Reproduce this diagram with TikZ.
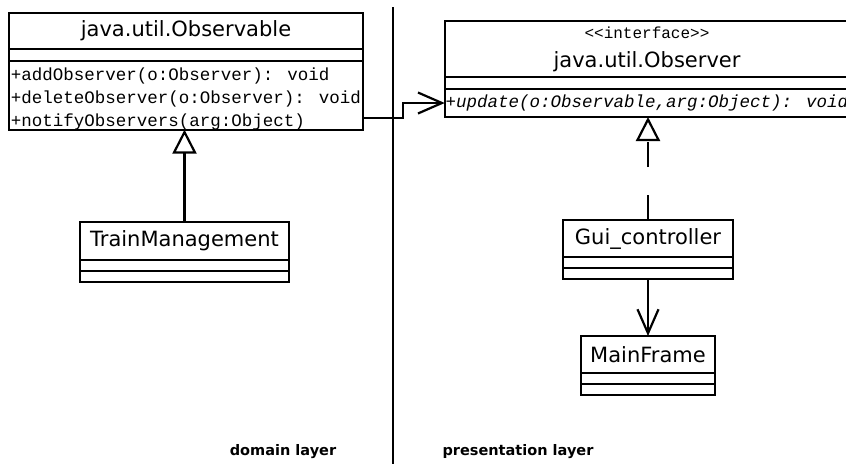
\documentclass[tikz,border=0pt]{standalone}
\usepackage{fontspec}
\setmainfont{DejaVu Sans}
\newfontfamily\codefont{Liberation Mono}
\usetikzlibrary{arrows.meta,positioning}

\begin{document}
\begin{tikzpicture}[
    x=1pt, y=-1pt,
    every node/.style={line width=2.2pt, outer sep=0pt},
    classhead/.style={draw, inner sep=0pt, minimum height=37pt,
      font=\fontsize{21}{25}\selectfont},
    classpart/.style={draw, inner sep=0pt, minimum height=11pt},
    oplist/.style={draw, inner xsep=1pt, inner ysep=0pt, align=left,
      font=\codefont\fontsize{17.5}{23}\selectfont},
    inherit/.style={-{Triangle[open, length=24pt, width=24pt]}, line width=2.2pt},
    assoc/.style={-{Straight Barb[length=24pt, width=21pt]}, line width=2.2pt},
    layer/.style={font=\fontsize{14.5}{16}\selectfont\bfseries}
  ]
    \useasboundingbox (0,0) rectangle (846,464);
    % java.util.Observable
    \node[classhead, minimum width=354pt, minimum height=36pt]
      (obs) at (186,31) {java.util.Observable};
    \node[classpart, minimum width=354pt, minimum height=12pt, below=0pt of obs]
      (obsattr) {};
    \node[oplist, minimum width=354pt, minimum height=68pt, below=0pt of obsattr]
      (obsops) {\rule{0pt}{19pt}+addObserver(o:Observer): void\\
                +deleteObserver(o:Observer): void\\
                +notifyObservers(arg:Object)};
    % java.util.Observer interface
    \node[classhead, minimum width=404pt, minimum height=56pt, align=center]
      (obsr) at (647,49)
      {{\codefont\fontsize{16}{16}\selectfont <\kern0pt<interface>\kern0pt>}\\[4pt]
       java.util.Observer};
    \node[classpart, minimum width=404pt, minimum height=12pt, below=0pt of obsr]
      (obsrattr) {};
    \node[oplist, minimum width=404pt, minimum height=28pt, below=0pt of obsrattr,
          font=\codefont\itshape\fontsize{17.5}{23}\selectfont]
      (obsrops) {+update(o:Observable,arg:Object): void};
    % domain side
    \node[classhead, minimum width=209pt, minimum height=38pt]
      (tm) at (184.5,241) {TrainManagement};
    \node[classpart, minimum width=209pt, below=0pt of tm] (tmattr) {};
    \node[classpart, minimum width=209pt, below=0pt of tmattr] (tmops) {};
    % presentation side
    \node[classhead, minimum width=170pt] (gui) at (648,238.5) {Gui\_controller};
    \node[classpart, minimum width=170pt, below=0pt of gui] (guiattr) {};
    \node[classpart, minimum width=170pt, below=0pt of guiattr] (guiops) {};
    \node[classhead, minimum width=134pt] (mf) at (648,354.5) {MainFrame};
    \node[classpart, minimum width=134pt, below=0pt of mf] (mfattr) {};
    \node[classpart, minimum width=134pt, below=0pt of mfattr] (mfops) {};
    % relations
    \draw[inherit] (tm.north) -- (tm.north |- obsops.south);
    \draw[inherit, dash pattern=on 25pt off 28pt] (gui.north) -- (gui.north |- obsrops.south);
    \draw[assoc] (guiops.south) -- (mf.north);
    \draw[assoc] ([yshift=12pt]obsops.south east) -- ++(40,0) |- (obsrops.west);
    % layer divider
    \draw[line width=2.2pt] (393,7) -- (393,464);
    \node[layer] (domain) at (283,452) {domain layer};
    \node[layer] (present) at (518,452) {presentation layer};
\end{tikzpicture}
\end{document}
